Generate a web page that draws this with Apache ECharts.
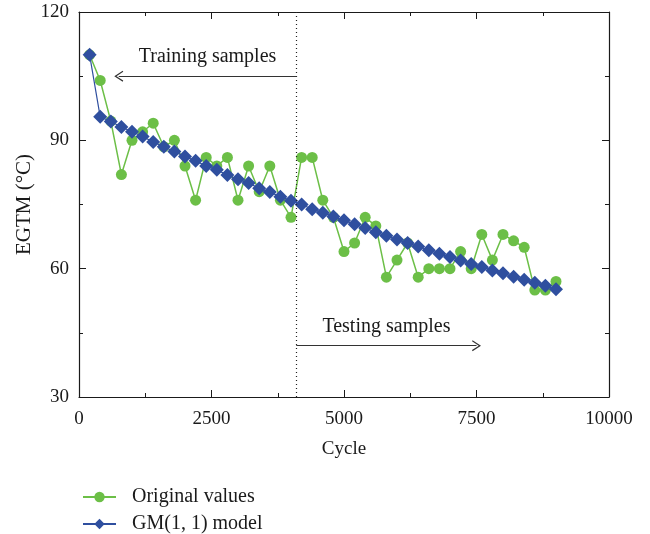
<!DOCTYPE html>
<html>
<head>
<meta charset="utf-8">
<script src="https://cdn.jsdelivr.net/npm/echarts@6/dist/echarts.min.js"></script>
<style>
  html, body { margin: 0; padding: 0; background: #fff; }
  #chart { width: 650px; height: 534px; }
</style>
</head>
<body>
<div id="chart"></div>
<script>
// Engine cycle of each sample
const cycles = [200, 400, 600, 800, 1000, 1200, 1400, 1600, 1800, 2000,
  2200, 2400, 2600, 2800, 3000, 3200, 3400, 3600, 3800, 4000,
  4200, 4400, 4600, 4800, 5000, 5200, 5400, 5600, 5800, 6000,
  6200, 6400, 6600, 6800, 7000, 7200, 7400, 7600, 7800, 8000,
  8200, 8400, 8600, 8800, 9000];

// Measured EGT margin (°C)
const originalValues = [110, 104, 94.5, 82, 90, 92, 94, 88.5, 90, 84,
  76, 86, 84, 86, 76, 84, 78, 84, 76, 72,
  86, 86, 76, 72, 64, 66, 72, 70, 58, 62,
  66, 58, 60, 60, 60, 64, 60, 68, 62, 68,
  66.5, 65, 55, 55, 57];

// GM(1, 1) model output (°C)
const gmValues = [110, 95.5, 94.4, 93.1, 92.0, 90.9, 89.6, 88.5, 87.4, 86.2,
  85.2, 84.0, 83.1, 81.9, 80.9, 80.0, 78.8, 77.9, 76.8, 75.9,
  75.0, 73.9, 73.1, 72.2, 71.3, 70.4, 69.5, 68.5, 67.7, 66.8,
  66.0, 65.2, 64.3, 63.5, 62.7, 61.9, 61.1, 60.4, 59.6, 58.9,
  58.1, 57.4, 56.7, 56.0, 55.2];

const xTicks = { min: 0, max: 10000, interval: 2500 };
const yTicks = { min: 30, max: 120, interval: 30 };

// Split between training and testing samples, and the annotation arrows
const splitCycle = 4100;
const trainingArrow = { label: 'Training samples', to: 750, y: 105 };
const testingArrow = { label: 'Testing samples', to: 7500, y: 42 };

const FONT = 'Liberation Serif';
const INK = '#1a1a1a';
const GREEN = '#6cbf47';
const BLUE = '#2f4f9f';

// open chevron used as arrow head
const chevron = 'path://M10,0 L20,15 L18,16 L10,4 L2,16 L0,15 Z';

function pairs(xs, ys) { return xs.map((x, i) => [x, ys[i]]); }

function arrow(a) {
  return [
    { coord: [splitCycle, a.y], symbol: 'none',
      label: { show: true, position: 'middle', formatter: a.label, distance: 9,
        fontFamily: FONT, fontSize: 20, color: INK },
      lineStyle: { type: 'solid', color: '#333', width: 1.2 } },
    { coord: [a.to, a.y], symbol: chevron, symbolSize: [11, 9] }
  ];
}

const axisCommon = {
  type: 'value',
  axisLine: { show: true, onZero: false, lineStyle: { color: INK, width: 1.2 } },
  axisTick: { show: true, inside: true, length: 7, lineStyle: { color: INK, width: 1 } },
  minorTick: { show: true, splitNumber: 2, length: 4, lineStyle: { color: INK, width: 1 } },
  splitLine: { show: false },
  minorSplitLine: { show: false }
};

const plainNumber = v => String(v);

const chart = echarts.init(document.getElementById('chart'), null, { renderer: 'canvas' });

chart.setOption({
  animation: false,
  backgroundColor: '#fff',
  grid: { left: 79, right: 41, top: 12, bottom: 137 },
  xAxis: [
    Object.assign({}, axisCommon, xTicks, {
      position: 'bottom',
      name: 'Cycle', nameLocation: 'middle', nameGap: 43,
      nameTextStyle: { fontFamily: FONT, fontSize: 19, color: INK },
      axisLabel: { fontFamily: FONT, fontSize: 19, color: INK, margin: 13, formatter: plainNumber }
    }),
    Object.assign({}, axisCommon, xTicks, {
      position: 'top', axisLabel: { show: false }
    })
  ],
  yAxis: [
    Object.assign({}, axisCommon, yTicks, {
      position: 'left',
      name: 'EGTM (°C)', nameLocation: 'middle', nameGap: 44, nameMoveOverlap: false,
      nameTextStyle: { fontFamily: FONT, fontSize: 21, color: INK },
      axisLabel: { fontFamily: FONT, fontSize: 19, color: INK, margin: 10, formatter: plainNumber }
    }),
    Object.assign({}, axisCommon, yTicks, {
      position: 'right', axisLabel: { show: false }
    })
  ],
  legend: {
    orient: 'vertical',
    left: 77, top: 481, height: 52,
    itemWidth: 33, itemHeight: 13, itemGap: 5,
    textStyle: { fontFamily: FONT, fontSize: 20, lineHeight: 22, color: INK, padding: [0, 0, 0, 11] },
    data: ['Original values', 'GM(1, 1) model']
  },
  series: [
    {
      name: 'Original values',
      type: 'line',
      data: pairs(cycles, originalValues),
      symbol: 'circle', symbolSize: 11,
      lineStyle: { color: GREEN, width: 1.5 },
      itemStyle: { color: GREEN },
      z: 2,
      markLine: {
        silent: true,
        symbol: 'none',
        animation: false,
        data: [
          [
            { coord: [splitCycle, yTicks.min], symbol: 'none',
              lineStyle: { type: [1, 3], color: '#222', width: 1.2 },
              label: { show: false } },
            { coord: [splitCycle, yTicks.max], symbol: 'none' }
          ],
          arrow(trainingArrow),
          arrow(testingArrow)
        ]
      }
    },
    {
      name: 'GM(1, 1) model',
      type: 'line',
      data: pairs(cycles, gmValues),
      symbol: 'diamond', symbolSize: 14,
      lineStyle: { color: BLUE, width: 1.2 },
      itemStyle: { color: BLUE },
      z: 3
    }
  ]
});
</script>
</body>
</html>
